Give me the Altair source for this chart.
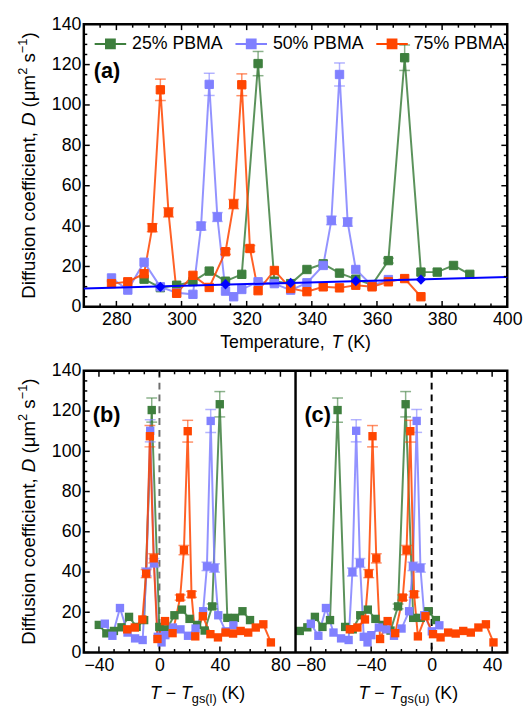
import altair as alt
import pandas as pd

FONT = "Liberation Sans"

series_names = ["25% PBMA", "50% PBMA", "75% PBMA"]
colors = ["#3e7f3e", "#8080ff", "#ff4500"]

T25 = [288.5, 293.5, 298.5, 303.5, 308.5, 313.5, 318.5, 323.5, 328.5, 333.5, 338.5,
       343.5, 348.5, 353.5, 358.5, 363.5, 368.5, 373.5, 378.5, 383.5, 388.5]
D25 = [13.7, 9.5, 10.7, 12.5, 17.7, 12.7, 16.1, 120.5, 12.7, 11.5, 18.5,
       21.3, 16.7, 13.7, 10.9, 22.9, 123.4, 17.2, 17.2, 20.5, 16.1]
E25 = [0, 0, 0, 0, 0, 0, 0, 6.0, 0, 0, 0,
       0, 0, 0, 0, 1.2, 6.3, 0, 0, 0, 0]

T50 = [278.5, 283.5, 288.5, 293.5, 298.5, 303.5, 306, 308.5, 311, 313.5, 316, 318.5,
       323.5, 328.5, 333.5, 338.5, 343.5, 346, 348.5, 351, 353.5, 358.5, 363.5]
D50 = [14.3, 8.3, 22.1, 9.9, 7.0, 6.2, 40.0, 110.2, 44.5, 7.8, 5.0, 8.6,
       12.4, 11.5, 8.3, 11.9, 20.5, 42.8, 115.1, 42.0, 18.5, 10.5, 13.5]
E50 = [0, 0, 0, 0, 0, 0, 2.0, 5.5, 2.2, 0, 0, 0,
       0, 0, 0, 0, 0, 2.1, 5.7, 2.1, 0, 0, 0]

T75 = [278.5, 283.5, 288.5, 291, 293.5, 296, 298.5, 303.5, 308.5, 313.5, 316, 318.5,
       321, 323.5, 328.5, 333.5, 338.5, 343.5, 348.5, 353.5, 358.5, 363.5, 368.5, 373.5]
D75 = [11.5, 12.4, 16.4, 39.2, 107.5, 46.8, 6.7, 15.6, 9.6, 27.3, 50.9, 110.0,
       28.9, 8.0, 18.0, 9.1, 7.5, 9.9, 9.4, 10.7, 9.9, 12.4, 14.0, 5.0]
E75 = [0, 0, 0, 2.0, 5.3, 2.3, 0, 0, 0, 1.3, 2.3, 5.4,
       1.5, 0, 0, 0, 0, 0, 0, 0, 0, 0, 0, 0]

Tgs_lower = [328.6, 314.6, 299.8]
Tgs_upper = [385.7, 358.4, 332.6]

T_fit = [293.5, 313.5, 333.5, 353.5, 373.5]
D_fit = [9.9, 11.2, 11.9, 12.8, 13.5]

xa_major = [280, 300, 320, 340, 360, 380, 400]
xa_minor = [v for v in range(275, 400, 5) if v not in xa_major]
y_major = [0, 20, 40, 60, 80, 100, 120, 140]
y_minor = [v for v in range(5, 140, 5) if v % 20]
C_OFF = 180
xbc_major = [-40, 0, 40, 80, 100, 140, 180, 220]
xbc_minor = [-30, -20, -10, 10, 20, 30, 50, 60, 70,
             110, 120, 130, 150, 160, 170, 190, 200, 210]

W, HA, HB = 430, 287, 286

# ---------------- data frames ----------------
rows = []
for name, T, D, E, tl, tu in zip(series_names, [T25, T50, T75], [D25, D50, D75],
                                 [E25, E50, E75], Tgs_lower, Tgs_upper):
    for t, d, e in zip(T, D, E):
        rows.append(dict(series=name, T=t, D=d, E=e, lo=d - e, hi=d + e,
                         xb=t - tl, xc=t - tu + C_OFF))
df = pd.DataFrame(rows)
df_b = df.assign(panel="b", x=df["xb"])
df_c = df.assign(panel="c", x=df["xc"])
df_c = df_c[df_c["x"] >= 90]
df_bc = pd.concat([df_b, df_c], ignore_index=True)
fit_df = pd.DataFrame({"T": T_fit, "D": D_fit})

color_scale = alt.Scale(domain=series_names, range=colors)

AW = {' ': .278, '\u2212': .584, '(': .333, ')': .333, 'K': .667, 'T': .611, ',': .278,
      'g': .556, 's': .5, 'l': .222, 'u': .556, 'D': .722, 'i': .222, 'f': .278,
      'o': .556, 'n': .556, 'c': .5, 'e': .556, 't': .278, 'm': .833, '\u03bc': .576,
      'p': .556, 'r': .333, 'a': .556, '1': .556, '2': .556}


def tw(s, size):
    return sum(AW.get(ch, .556) for ch in s) * size


def compose(pieces, ax, ay, angle=0):
    total = sum(tw(p[0], p[1]) for p in pieces)
    off = -total / 2
    out = []
    for text, size, style, dy in pieces:
        lead = len(text) - len(text.lstrip(' '))
        out.append(
            alt.Chart(pd.DataFrame({"t": [text.strip()]}))
            .mark_text(font=FONT, fontSize=size, fontStyle=style, align="left",
                       baseline="alphabetic", dx=off + tw(' ' * lead, size), dy=dy,
                       angle=angle, color="black")
            .encode(x=alt.value(ax), y=alt.value(ay), text="t:N")
        )
        off += tw(text, size)
    return out


def ytitle(H):
    return compose([
        ("Diffusion coefficient, ", 19, "normal", 0),
        ("D", 19, "italic", 0),
        (" (\u03bcm", 19, "normal", 0),
        ("2", 13, "normal", -7.5),
        (" s", 19, "normal", 0),
        ("\u22121", 13, "normal", -7.5),
        (")", 19, "normal", 0),
    ], -50, H / 2, angle=270)


def xaxis(values, expr=None):
    kw = dict(values=values, ticks=False, domain=False, grid=False, labelPadding=4,
              labelFlush=False, labelOverlap=False, title=None, labelFont=FONT,
              labelFontSize=18, labelColor="black")
    if expr:
        kw["labelExpr"] = expr
    return alt.Axis(**kw)


yaxis = alt.Axis(values=y_major, ticks=False, domain=False, grid=False, labelPadding=3,
                 labelOverlap=False, title=None, labelFont=FONT, labelFontSize=18,
                 labelColor="black")
yscale = alt.Scale(domain=[0, 140], nice=False, zero=False)


def Yq(f):
    return alt.Y(f + ":Q", scale=yscale, axis=yaxis)


def make_ticks(xenc, major_x, minor_x, H):
    layers = []
    for vals, ln in [(major_x, 6), (minor_x, 3.5)]:
        d = pd.DataFrame({"v": vals})
        base = alt.Chart(d).mark_rule(color="black", strokeWidth=1.5)
        layers.append(base.encode(x=xenc("v"), y=alt.value(H), y2=alt.value(H - ln)))
        layers.append(base.encode(x=xenc("v"), y=alt.value(0), y2=alt.value(ln)))
    for vals, ln in [(y_major, 6), (y_minor, 3.5)]:
        d = pd.DataFrame({"v": vals})
        base = alt.Chart(d).mark_rule(color="black", strokeWidth=1.5)
        layers.append(base.encode(y=Yq("v"), x=alt.value(0), x2=alt.value(ln)))
        layers.append(base.encode(y=Yq("v"), x=alt.value(W), x2=alt.value(W - ln)))
    return layers


LEGEND = alt.Legend(title=None, orient="none", legendX=10, legendY=3,
                    direction="horizontal",
                    symbolType="M-1,0L1,0M-0.28,-0.28L0.28,-0.28L0.28,0.28L-0.28,0.28Z",
                    symbolSize=1024, symbolStrokeWidth=2, labelFont=FONT,
                    labelFontSize=18, labelColor="black", labelOffset=5,
                    columnPadding=8, padding=0)


def data_layers(data, xenc, xfield, with_legend, detail=None):
    lines, errs, caps, squares = [], [], [], []
    for name, col in zip(series_names, colors):
        sub = alt.Chart(data).transform_filter(alt.datum.series == name)
        enc = dict(x=xenc(xfield), y=Yq("D"))
        if detail:
            enc["detail"] = detail
        lines.append(sub.mark_line(strokeWidth=2, opacity=0.85, color=col).encode(**enc))
        e = sub.transform_filter("datum.E > 0")
        errs.append(e.mark_rule(strokeWidth=1.5, opacity=0.6, color=col)
                    .encode(x=xenc(xfield), y=Yq("lo"), y2="hi:Q"))
        caps.append(e.transform_fold(["lo", "hi"], as_=["k", "yv"])
                    .mark_tick(orient="horizontal", size=11, thickness=1.5,
                               opacity=0.6, color=col)
                    .encode(x=xenc(xfield), y=Yq("yv")))
        if not with_legend:
            squares.append(sub.mark_square(size=72, strokeWidth=1, opacity=1,
                                           color=col, filled=True)
                           .encode(x=xenc(xfield), y=Yq("D")))
    if with_legend:
        squares.append(alt.Chart(data).mark_square(size=72, strokeWidth=1, opacity=1)
                       .encode(x=xenc(xfield), y=Yq("D"),
                               fill=alt.Fill("series:N", scale=color_scale, legend=LEGEND),
                               stroke=alt.Stroke("series:N", scale=color_scale,
                                                 legend=LEGEND)))
    return lines + errs + caps + squares


# ---------------- panel (a) ----------------
xa_scale = alt.Scale(domain=[270, 400], nice=False, zero=False)
xa_axis = xaxis(xa_major)


def xa_enc(f):
    return alt.X(f + ":Q", scale=xa_scale, axis=xa_axis)


fit_line = (alt.Chart(fit_df).transform_regression("T", "D", extent=[270, 400])
            .mark_line(color="#0000ff", strokeWidth=2)
            .encode(x=xa_enc("T"), y=Yq("D")))
diamonds = (alt.Chart(fit_df).mark_point(shape="diamond", filled=True, size=110,
                                          color="#0000ff", opacity=1)
            .encode(x=xa_enc("T"), y=Yq("D")))


def panel_label(text, x, y):
    return (alt.Chart(pd.DataFrame({"t": [text]}))
            .mark_text(font=FONT, fontSize=22, fontWeight="bold", align="left",
                       baseline="alphabetic", color="black")
            .encode(x=alt.value(x), y=alt.value(y), text="t:N"))


xa_title = compose([("Temperature, ", 18, "normal", 0), ("T", 18, "italic", 0),
                    (" (K)", 18, "normal", 0)], W / 2, HA + 42)

chart_a = alt.layer(
    *data_layers(df, xa_enc, "T", True),
    fit_line, diamonds,
    *make_ticks(xa_enc, xa_major, xa_minor, HA),
    panel_label("(a)", 10, 55),
    *xa_title, *ytitle(HA),
).properties(width=W, height=HA)

# ---------------- panels (b) + (c) ----------------
xbc_scale = alt.Scale(domain=[-50, 230], nice=False, zero=False)
xbc_axis = xaxis(xbc_major,
                 "datum.value > 90 ? format(datum.value - 180, 'd') : format(datum.value, 'd')")


def xbc_enc(f):
    return alt.X(f + ":Q", scale=xbc_scale, axis=xbc_axis)


dash_b = (alt.Chart(pd.DataFrame({"v": [0]}))
          .mark_rule(color="#6e6e6e", strokeWidth=2, strokeDash=[7, 5])
          .encode(x=xbc_enc("v")))
dash_c = (alt.Chart(pd.DataFrame({"v": [C_OFF]}))
          .mark_rule(color="black", strokeWidth=2, strokeDash=[7, 5])
          .encode(x=xbc_enc("v")))
divider = (alt.Chart(pd.DataFrame({"v": [90]}))
           .mark_rule(color="black", strokeWidth=2.5)
           .encode(x=xbc_enc("v")))

title_b = compose([("T", 18, "italic", 0), (" \u2212 ", 18, "normal", 0),
                   ("T", 18, "italic", 0), ("gs(l)", 13, "normal", 4.5),
                   (" (K)", 18, "normal", 0)], 107.5 + 8, HB + 47)
title_c = compose([("T", 18, "italic", 0), (" \u2212 ", 18, "normal", 0),
                   ("T", 18, "italic", 0), ("gs(u)", 13, "normal", 4.5),
                   (" (K)", 18, "normal", 0)], 322.5 + 7, HB + 47)

chart_bc = alt.layer(
    dash_b, dash_c,
    *data_layers(df_bc, xbc_enc, "x", False, detail="panel:N"),
    divider,
    *make_ticks(xbc_enc, xbc_major, xbc_minor, HB),
    panel_label("(b)", 9, 51.5), panel_label("(c)", 224, 51.5),
    *title_b, *title_c, *ytitle(HB),
).properties(width=W, height=HB)

chart = (alt.vconcat(chart_a, chart_bc, spacing=6)
         .resolve_legend(fill="independent", stroke="independent")
         .properties(padding={"left": 8, "top": 0, "right": 0, "bottom": 0})
         .configure_view(stroke="black", strokeWidth=2.5))

chart.save("out.html", embed_options={"renderer": "svg", "actions": False})
